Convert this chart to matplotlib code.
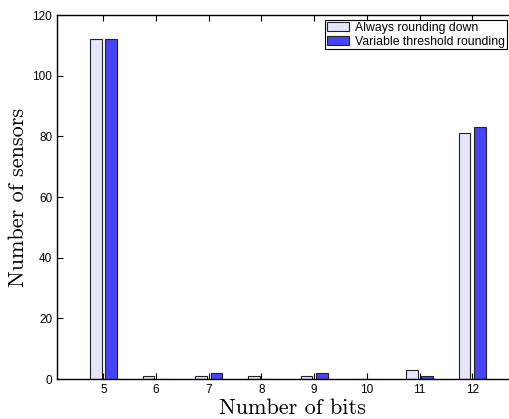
import matplotlib.pyplot as plt
import numpy as np

bits = [5, 6, 7, 8, 9, 10, 11, 12]
always_down = [112, 1, 1, 1, 1, 0, 3, 81]
variable_thr = [112, 0, 2, 0, 2, 0, 1, 83]

fig = plt.figure(figsize=(5.10, 4.19), dpi=100)
# axes run past the right edge, as in the cropped original
ax = fig.add_axes([57 / 510, 40 / 419, 470 / 510, 364 / 419])

x = np.array(bits)
w = 0.22
ax.bar(x - 0.145, always_down, w, color='#e5e5fb', edgecolor='#222222', linewidth=0.8,
       label='Always rounding down')
ax.bar(x + 0.145, variable_thr, w, color='#4545f7', edgecolor='#222222', linewidth=0.8,
       label='Variable threshold rounding')

ax.set_xlim(4.12, 4.12 + 470 / 52.7)
ax.set_ylim(0, 120)
ax.set_xticks(bits)
ax.set_yticks(range(0, 121, 20))
ax.tick_params(direction='in', top=True, right=False, labelsize=8.5, length=4, width=0.8)
for lab in ax.get_xticklabels() + ax.get_yticklabels():
    lab.set_family('Liberation Sans')
for s in ax.spines.values():
    s.set_linewidth(1.0)
ax.spines['right'].set_visible(False)

ax.set_xlabel('Number of bits', family='cmr10', fontsize=16, labelpad=2)
ax.set_ylabel('Number of sensors', family='cmr10', fontsize=16, labelpad=3)

leg = ax.legend(loc='upper right', bbox_to_anchor=(507 / 510, 1 - 20 / 419),
                bbox_transform=fig.transFigure, fancybox=False, framealpha=1,
                edgecolor='black', borderaxespad=0, borderpad=0.15, handlelength=1.8,
                handleheight=0.8, handletextpad=0.5, labelspacing=0.15,
                prop={'family': 'Liberation Sans', 'size': 8.8})
leg.get_frame().set_linewidth(0.8)

fig.savefig('out.png', dpi=100)
